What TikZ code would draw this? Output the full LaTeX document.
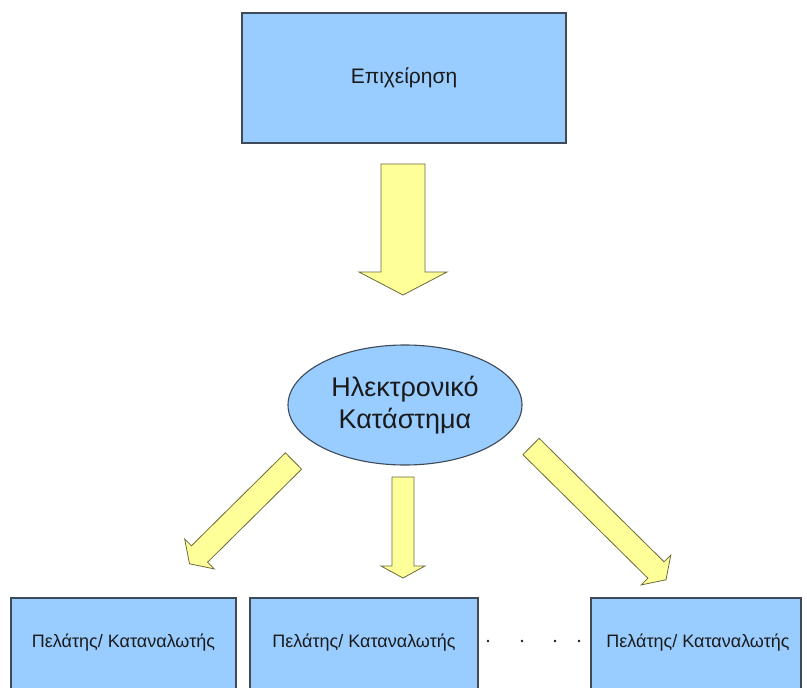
\documentclass[tikz,border=0pt]{standalone}
\usepackage{fontspec}
\setmainfont{Liberation Sans}
\usetikzlibrary{shapes.geometric}
\begin{document}
\begin{tikzpicture}[x=1pt,y=-1pt,
  boxfill/.style={draw=boxline,fill=boxblue,line width=1.1pt,inner sep=0pt},
  yarrow/.style={draw=arrline,fill=arrfill,line width=0.8pt,line join=miter},
  label/.style={text=txt,font=\fontsize{18}{22}\selectfont}]
\definecolor{boxblue}{HTML}{99CCFF}
\definecolor{boxline}{HTML}{3E4A58}
\definecolor{arrfill}{HTML}{FFFF99}
\definecolor{arrline}{HTML}{6A6A3C}
\definecolor{txt}{HTML}{1A1A1A}
\useasboundingbox (0,0) rectangle (807,688);
\begin{scope}
\clip (0,0) rectangle (807,688);

% company box
\node[boxfill,minimum width=324pt,minimum height=130pt] (firm) at (404,78) {};
\node[label,font=\fontsize{21}{24}\selectfont] at (firm.center) {Επιχείρηση};

% big arrow from company to e-shop
\draw[yarrow] (381,164) -- (425,164) -- (425,272) -- (447,272) -- (403,295)
  -- (359,272) -- (381,272) -- cycle;

% e-shop
\node[boxfill,ellipse,minimum width=234pt,minimum height=120pt] (shop) at (405,405) {};
\node[label,align=center,font=\fontsize{27}{32}\selectfont] at (shop.center) {Ηλεκτρονικό\\Κατάστημα};

% arrows from e-shop to customers
\draw[yarrow] (285.4,452.8) -- (191.4,545.8) -- (184.7,539.1) -- (189.5,563.8)
  -- (214.3,568.9) -- (207.6,562.2) -- (301.6,469.2) -- cycle;
\draw[yarrow] (392,477) -- (414,477) -- (414,566) -- (425,566) -- (403,578)
  -- (381,566) -- (392,566) -- cycle;
\draw[yarrow] (539.1,438.3) -- (664.1,561.8) -- (670.8,555.1) -- (666,579.8)
  -- (641.2,584.9) -- (647.9,578.2) -- (522.9,454.7) -- cycle;

% customers
\draw[boxfill] (11,598) rectangle (236,700);
\draw[boxfill] (250,598) rectangle (478,700);
\draw[boxfill] (591,598) rectangle (801,700);
\node[label] (c1) at (123.5,643) {Πελάτης/ Καταναλωτής};
\node[label] (c2) at (364,643) {Πελάτης/ Καταναλωτής};
\node[label] (c3) at (698,643) {Πελάτης/ Καταναλωτής};

% ellipsis dots
\foreach \dx in {488,522,555,579}
  \fill[txt] (\dx,641) circle (1.4pt);
\end{scope}
\end{tikzpicture}
\end{document}
